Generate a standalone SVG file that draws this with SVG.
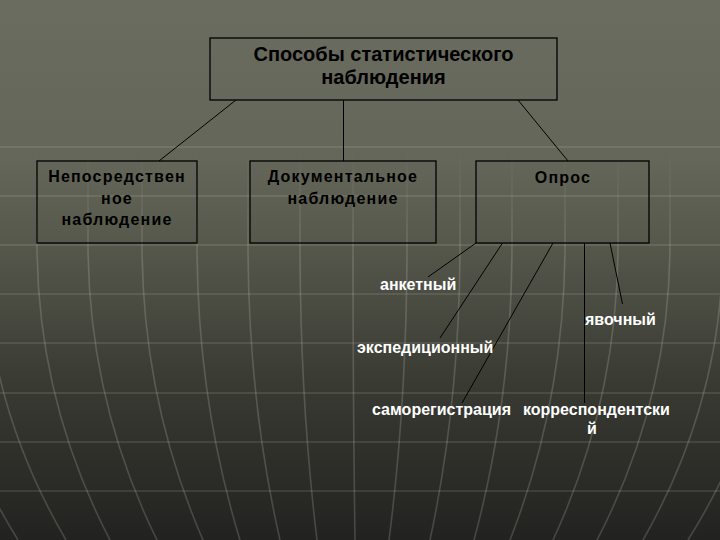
<svg xmlns="http://www.w3.org/2000/svg" width="720" height="540" viewBox="0 0 720 540">
<defs>
<linearGradient id="bg" x1="0" y1="0" x2="0" y2="1">
<stop offset="0" stop-color="#6a6c60"/>
<stop offset="0.3" stop-color="#646659"/>
<stop offset="0.45" stop-color="#57584c"/>
<stop offset="0.7" stop-color="#3a3b33"/>
<stop offset="1" stop-color="#222220"/>
</linearGradient>
<linearGradient id="mer" gradientUnits="userSpaceOnUse" x1="0" y1="150" x2="0" y2="260">
<stop offset="0" stop-color="#d8d8c8" stop-opacity="0"/>
<stop offset="1" stop-color="#d8d8c8" stop-opacity="0.2"/>
</linearGradient>
</defs>
<style>
.box{fill:none;stroke:#000;stroke-width:1.3}
.con line{stroke:#000;stroke-width:1}
.hl{stroke:#d8d8c8;stroke-opacity:0.17;stroke-width:1.5}
.mer path{fill:none;stroke:url(#mer);stroke-width:1.6}
.bt{font-family:"Liberation Sans",Arial,sans-serif;font-weight:bold;fill:#000;text-anchor:middle}
.t16{font-size:16px;letter-spacing:1.2px}
.t20{font-size:20px}
.wt{font-family:"Liberation Sans",Arial,sans-serif;font-weight:bold;font-size:16px;fill:#fff}
</style>
<rect width="720" height="540" fill="url(#bg)"/>
<g id="grid">
<line class="hl" x1="0" y1="147" x2="720" y2="147" stroke-opacity="0.05"/>
<line class="hl" x1="0" y1="196" x2="720" y2="196" stroke-opacity="0.09"/>
<line class="hl" x1="0" y1="245" x2="720" y2="245"/>
<line class="hl" x1="0" y1="294" x2="720" y2="294"/>
<line class="hl" x1="0" y1="343" x2="720" y2="343"/>
<line class="hl" x1="0" y1="393" x2="720" y2="393"/>
<line class="hl" x1="0" y1="442" x2="720" y2="442"/>
<line class="hl" x1="0" y1="491" x2="720" y2="491"/>
<g class="mer">
<path d="M-69 150 L-69 243 Q-69 400 18 540"/>
<path d="M-16 150 L-16 243 Q-16 400 66 540"/>
<path d="M37 150 L37 243 Q37 400 110 540"/>
<path d="M88 150 L88 243 Q88 400 157 540"/>
<path d="M142 150 L142 243 Q142 400 203 540"/>
<path d="M197 150 L197 243 Q197 400 240 540"/>
<path d="M248 150 L248 243 Q248 400 280 540"/>
<path d="M300 150 L300 243 Q300 400 317 540"/>
<path d="M353 150 L353 243 Q353 400 355 540"/>
<path d="M407 150 L407 243 Q407 400 389 540"/>
<path d="M460 150 L460 243 Q460 400 430 540"/>
<path d="M512 150 L512 243 Q512 400 474 540"/>
<path d="M565 150 L565 243 Q565 400 510 540"/>
<path d="M618 150 L618 243 Q618 400 553 540"/>
<path d="M670 150 L670 243 Q670 400 597 540"/>
<path d="M723 150 L723 243 Q723 400 643 540"/>
<path d="M776 150 L776 243 Q776 400 688 540"/>
</g>
</g>
<g id="connectors" class="con">
<line x1="236" y1="100" x2="159" y2="161"/>
<line x1="343.5" y1="100" x2="343.5" y2="161"/>
<line x1="518" y1="100" x2="568" y2="161"/>
<line x1="476" y1="243" x2="428" y2="277"/>
<line x1="502.5" y1="243" x2="440" y2="338"/>
<line x1="553" y1="243" x2="462" y2="403"/>
<line x1="584.5" y1="243" x2="584.5" y2="403"/>
<line x1="610" y1="243" x2="622.5" y2="304"/>
</g>
<g id="n-root">
<rect class="box" x="210" y="38" width="347" height="62"/>
<text class="bt t20" x="383.5" y="61">Способы статистического</text>
<text class="bt t20" x="383.5" y="84">наблюдения</text>
</g>
<g id="n-direct">
<rect class="box" x="37" y="161" width="160" height="82"/>
<text class="bt t16" x="117" y="182">Непосредствен</text>
<text class="bt t16" x="117" y="203.5">ное</text>
<text class="bt t16" x="117" y="225">наблюдение</text>
</g>
<g id="n-doc">
<rect class="box" x="250" y="161" width="186" height="82"/>
<text class="bt t16" x="343" y="182">Документальное</text>
<text class="bt t16" x="343" y="203.5">наблюдение</text>
</g>
<g id="n-opros">
<rect class="box" x="476" y="161" width="173" height="82"/>
<text class="bt t16" x="563" y="182.5">Опрос</text>
</g>
<g id="n-anket"><text class="wt" x="380" y="290">анкетный</text></g>
<g id="n-yavoch"><text class="wt" x="585" y="325">явочный</text></g>
<g id="n-exped"><text class="wt" x="357" y="353">экспедиционный</text></g>
<g id="n-samoreg"><text class="wt" x="372" y="415">саморегистрация</text></g>
<g id="n-corresp">
<text class="wt" x="523" y="415">корреспондентски</text>
<text class="wt" x="592" y="434" text-anchor="middle">й</text>
</g>
</svg>
